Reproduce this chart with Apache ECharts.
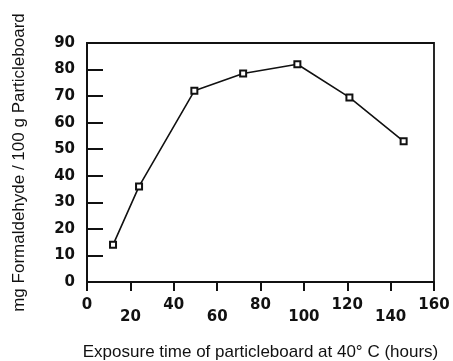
<!DOCTYPE html>
<html>
<head>
<meta charset="utf-8">
<script src="https://cdn.jsdelivr.net/npm/echarts@6/dist/echarts.min.js"></script>
<style>
  html, body { margin: 0; padding: 0; background: #fff; }
  #chart { width: 453px; height: 361px; }
</style>
</head>
<body>
<div id="chart"></div>
<script>
// exposure time (hours) and formaldehyde released (mg / 100 g board)
var hours = [12, 24, 49.5, 72, 97, 121, 146];
var formaldehyde = [14, 36, 72, 78.5, 82, 69.5, 53];
var xTicks = [0, 20, 40, 60, 80, 100, 120, 140, 160];
var yTicks = [0, 10, 20, 30, 40, 50, 60, 70, 80, 90];

var points = hours.map(function (h, i) { return [h, formaldehyde[i]]; });

var myChart = echarts.init(document.getElementById('chart'));
var option = {
    backgroundColor: '#fff',
    animation: false,
    grid: {
        left: 87, right: 19, top: 43, bottom: 79,
        outerBoundsMode: 'none',
        show: true,
        borderColor: '#111',
        borderWidth: 1.8
    },
    xAxis: {
        type: 'value',
        min: xTicks[0],
        max: xTicks[xTicks.length - 1],
        interval: 20,
        name: 'Exposure time of particleboard at 40° C (hours)',
        nameLocation: 'middle',
        nameGap: 62,
        nameTextStyle: { fontFamily: 'Liberation Sans', fontSize: 17, color: '#111' },
        axisLine: { lineStyle: { color: '#111', width: 2 } },
        axisTick: { inside: false, length: 9, lineStyle: { color: '#111', width: 2 } },
        splitLine: { show: false },
        axisLabel: {
            margin: 16,
            formatter: function (v) {
                // labels alternate between two rows, as in the original
                var i = xTicks.indexOf(v);
                return i % 2 === 0 ? '{up|' + v + '}' : '{down|' + v + '}';
            },
            rich: {
                up: { fontFamily: 'DejaVu Sans', fontWeight: 'bold', fontSize: 15, color: '#111' },
                down: { fontFamily: 'DejaVu Sans', fontWeight: 'bold', fontSize: 15, color: '#111', padding: [12, 0, 0, 0] }
            }
        }
    },
    yAxis: {
        type: 'value',
        min: yTicks[0],
        max: yTicks[yTicks.length - 1],
        interval: 10,
        name: 'mg Formaldehyde / 100 g Particleboard',
        nameLocation: 'middle',
        nameGap: 59,
        nameTextStyle: { fontFamily: 'Liberation Sans', fontSize: 17, color: '#111' },
        axisLine: { show: true, lineStyle: { color: '#111', width: 2 } },
        axisTick: { show: true, inside: true, length: 16, lineStyle: { color: '#111', width: 2 } },
        splitLine: { show: false },
        axisLabel: {
            margin: 12,
            fontFamily: 'DejaVu Sans',
            fontWeight: 'bold',
            fontSize: 15,
            color: '#111'
        }
    },
    series: [{
        type: 'line',
        data: points,
        symbol: 'emptyRect',
        symbolSize: 6,
        lineStyle: { color: '#111', width: 1.6 },
        itemStyle: { color: '#111', borderColor: '#111', borderWidth: 1.3 }
    }]
};
myChart.setOption(option);
</script>
</body>
</html>
